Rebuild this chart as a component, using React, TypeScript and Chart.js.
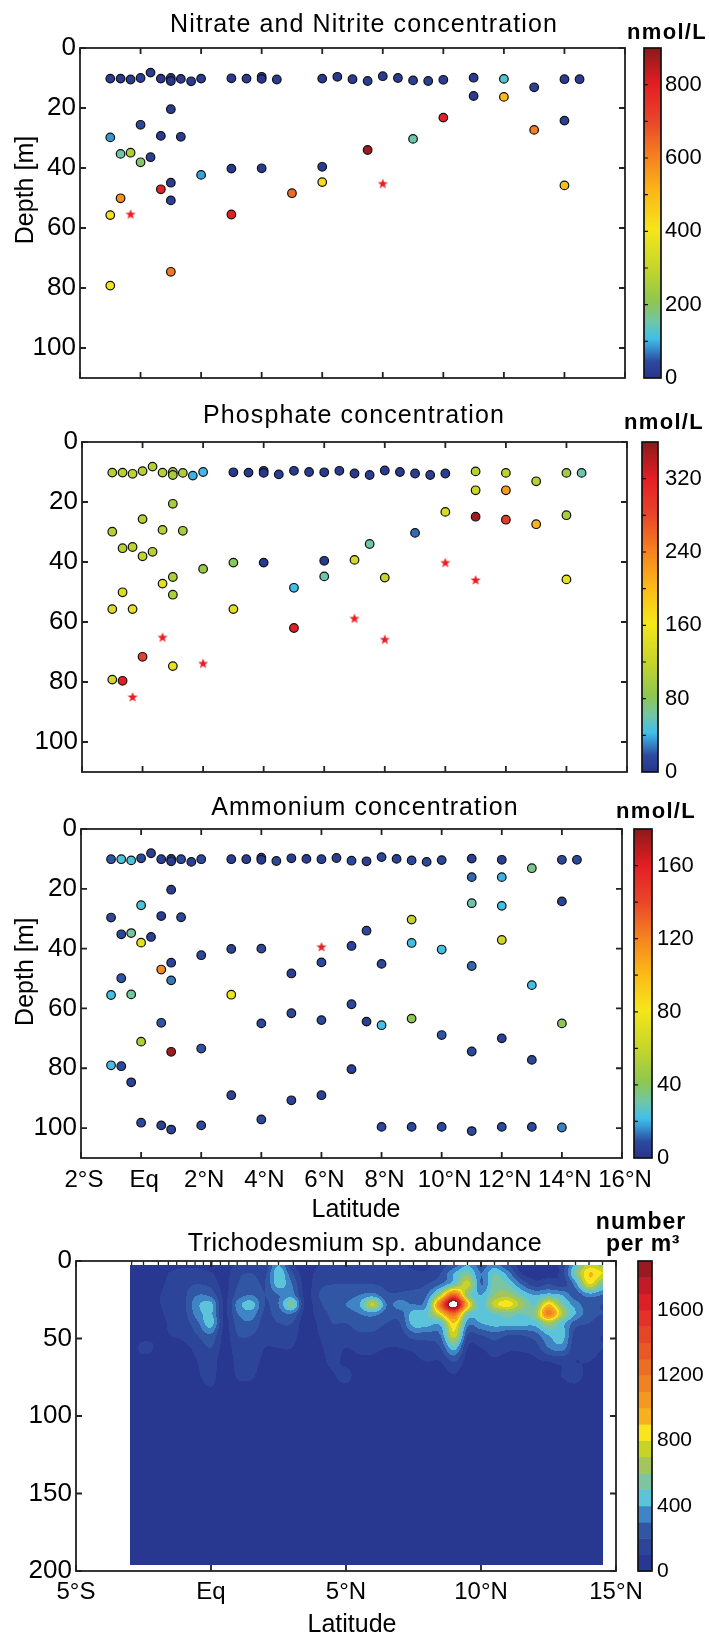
import React, { useEffect, useRef } from "react";
import { Chart, registerables } from "chart.js";

Chart.register(...registerables);
const FAMILY = '"Liberation Sans", Arial, Helvetica, sans-serif';
Chart.defaults.font.family = FAMILY;
Chart.defaults.color = "#000";

// ---------------- Axis ticks ----------------
const depthTicks = [0, 20, 40, 60, 80, 100];
const latTicks = [-2, 0, 2, 4, 6, 8, 10, 12, 14, 16];
const latTickLabels = ["2°S", "Eq", "2°N", "4°N", "6°N", "8°N", "10°N", "12°N", "14°N", "16°N"];
const trichoDepthTicks = [0, 50, 100, 150, 200];
const trichoLatTicks = [-5, 0, 5, 10, 15];
const trichoLatTickLabels = ["5°S", "Eq", "5°N", "10°N", "15°N"];

// ---------------- Panel 1: Nitrate + Nitrite (nmol/L) ----------------
const no3Lat = [-1, -0.66, -0.33, 0, 0.33, 0.67, 1, 1, 1.33, 1.67, 2, 3, 3.5, 4, 4, 4.5, 6, 6.5, 7, 7.5, 8, 8.5, 9, 9.5, 10, 11, 12, 13, 14, 14.5,
  1, 0, -1, 0.67, 1.33, -0.66, -0.33, 0.33, 0, 2, 3, 4, 6, 6, 5, 1, 0.67, 1, -0.66, -1, 3, 1, -1, 11, 12, 10, 14, 13, 9, 7.5, 14];
const no3Depth = [10.2, 10.2, 10.5, 10, 8.2, 10.2, 10, 11, 10.3, 11.1, 10.2, 10.1, 10.2, 9.6, 10.3, 10.5, 10.2, 9.6, 10.4, 11, 9.4, 10, 10.8, 11, 10.6, 9.9, 10.3, 13.1, 10.4, 10.4,
  20.4, 25.6, 29.8, 29.3, 29.6, 35.3, 34.9, 36.4, 38.1, 42.3, 40.2, 40.1, 39.6, 44.7, 48.4, 44.9, 47.1, 50.8, 50.1, 55.7, 55.5, 74.6, 79.2, 16.0, 16.3, 23.2, 24.2, 27.3, 30.3, 34.0, 45.8];
const no3Value = [20, 15, 15, 20, 15, 10, 10, 5, 15, 15, 15, 10, 15, 10, 5, 15, 10, 10, 15, 20, 15, 15, 20, 20, 15, 15, 130, 25, 15, 15,
  15, 40, 85, 15, 15, 150, 260, 25, 190, 90, 10, 10, 15, 430, 640, 15, 790, 20, 580, 420, 800, 620, 410, 15, 500, 790, 25, 610, 150, 880, 490];
const no3StarLat = [-0.33, 8];
const no3StarDepth = [55.4, 45.2];
const no3CbTicks = [0, 200, 400, 600, 800];

// ---------------- Panel 2: Phosphate (nmol/L) ----------------
const po4Lat = [-1, -0.66, -0.33, 0, 0.33, 0.66, 1, 1, 1.33, 1.66, 2, 3, 3.5, 4, 4, 4.5, 5, 5.5, 6, 6.5, 7, 7.5, 8, 8.5, 9, 9.5, 10, 11, 12, 13, 14, 14.5,
  1, 0, -1, 0.66, 1.33, -0.66, -0.33, 0.33, 0, 2, 3, 4, 6, 6, 5, 7, 1, 0.66, 1, -0.66, -1, -0.33, 3, 5, 0, 1, -1, -0.66, 11, 12, 10, 11, 12, 13, 14, 9, 7.5, 8, 14];
const po4Depth = [10.2, 10.2, 10.6, 9.7, 8.2, 10.2, 10, 11, 10.3, 11.2, 10, 10.1, 10.2, 9.6, 10.3, 10.8, 9.6, 10, 10.1, 9.6, 10.5, 11, 9.5, 10, 10.5, 11, 10.5, 9.8, 10.3, 13.1, 10.3, 10.3,
  20.6, 25.7, 29.9, 29.3, 29.6, 35.4, 35.0, 36.6, 38.1, 42.3, 40.2, 40.2, 39.6, 44.8, 48.6, 39.3, 45.0, 47.2, 50.9, 50.1, 55.7, 55.7, 55.7, 62.0, 71.6, 74.7, 79.2, 79.6, 16.1, 16.1, 23.3, 24.9, 25.9, 27.4, 24.4, 30.3, 34.0, 45.2, 45.8];
const po4Value = [110, 110, 115, 110, 105, 110, 105, 100, 105, 40, 42, 5, 5, 5, 3, 8, 5, 5, 5, 5, 5, 8, 5, 5, 8, 8, 8, 110, 115, 110, 95, 60,
  100, 110, 110, 110, 100, 110, 115, 110, 118, 90, 80, 5, 5, 60, 43, 130, 105, 148, 105, 140, 140, 150, 145, 320, 285, 150, 130, 320, 125, 225, 135, 350, 290, 205, 100, 25, 60, 120, 150];
const po4StarLat = [0.66, 2, -0.33, 7, 8, 10, 11];
const po4StarDepth = [65.1, 73.8, 85.0, 58.8, 65.8, 40.2, 46.0];
const po4CbTicks = [0, 80, 160, 240, 320];

// ---------------- Panel 3: Ammonium (nmol/L) ----------------
const nh4Lat = [-1, -0.66, -0.33, 0, 0.33, 0.67, 1, 1, 1.33, 1.67, 2, 3, 3.5, 4, 4, 4.5, 5, 5.5, 6, 6.5, 7, 7.5, 8, 8.5, 9, 9.5, 10, 11, 12, 13, 14, 14.5,
  11, 12, 11, 12, 14, 9, 7.5, 7, 9, 10, 12, 8, 11, 13, 7, 7.5, 8, 9, 14, 10, 12, 11, 13, 7, 8, 9, 10, 11, 12, 13,
  14, 1, 0, -1, 0.67, 1.33, -0.66, -0.33, 0.33, 0, 2, 3, 4, 6, 5, 1, 0.67, 1, -0.66, -1,
  -0.33, 3, 0.67, 4, 5, 6, 0, 1, 2, 3, 5, 6, -0.33, -1, -0.66, 0, 0.67, 1, 2, 4];
const nh4Depth = [10.1, 10.1, 10.5, 9.8, 8.1, 10.1, 10, 10.8, 10.1, 11, 10.1, 10.1, 10.1, 9.6, 10.3, 10.7, 9.8, 10, 10.1, 9.7, 10.6, 10.8, 9.4, 10, 10.5, 11, 10.4, 9.9, 10.3, 13.1, 10.3, 10.3,
  16.1, 16.1, 24.8, 25.7, 24.2, 30.3, 34.0, 39.1, 38.1, 40.3, 37.1, 45.1, 45.8, 52.2, 58.6, 64.4, 65.6, 63.4, 65.0, 68.9, 70.0, 74.4, 77.2, 80.3, 99.6, 99.6, 99.6, 101, 99.6, 99.6,
  99.8, 20.3, 25.5, 29.6, 29.1, 29.5, 35.2, 34.8, 36.1, 38.0, 42.2, 40.1, 40.0, 44.6, 48.3, 44.7, 47.0, 50.6, 49.9, 55.5,
  55.3, 55.4, 64.8, 65.0, 61.6, 63.9, 71.1, 74.5, 73.4, 89.0, 90.7, 89.0, 84.7, 79.0, 79.3, 98.2, 99.1, 100.5, 99.1, 97.1];
const nh4Value = [10, 24, 24, 8, 4, 4, 5, 3, 8, 5, 8, 4, 4, 4, 3, 8, 4, 4, 6, 4, 8, 4, 8, 5, 8, 8, 8, 5, 5, 34, 8, 8,
  12, 20, 30, 22, 6, 58, 8, 6, 22, 22, 62, 8, 12, 22, 8, 5, 22, 42, 40, 10, 6, 8, 8, 5, 8, 8, 8, 8, 8, 8,
  15, 4, 24, 8, 4, 8, 8, 32, 4, 72, 8, 6, 8, 8, 5, 6, 118, 14, 10, 22,
  32, 78, 10, 8, 8, 8, 52, 175, 10, 6, 6, 6, 6, 22, 8, 8, 6, 6, 8, 8];
const nh4StarLat = [6];
const nh4StarDepth = [39.4];
const nh4CbTicks = [0, 40, 80, 120, 160];

// ---------------- Panel 4: Trichodesmium sp. abundance (number per m3) ----------------
const trichoLat = [-3, -2.5, -2, -1.5, -1, -0.5, 0, 0.5, 1, 1.5, 2, 2.5, 3, 3.5, 4, 4.5, 5, 5.5, 6, 6.5, 7, 7.5, 8, 8.5, 9, 9.5, 10, 10.5, 11, 11.5, 12, 12.5, 13, 13.5, 14, 14.5];
const trichoDepth = [2.5, 8, 15, 22, 28, 34, 40, 48, 56, 65, 75, 85, 196];
const trichoAbundance = [
  [0, 0, 20, 60, 80, 80, 60, 50, 120, 150, 120, 400, 120, 40, 100, 150, 150, 120, 100, 120, 120, 80, 80, 150, 250, 400, 250, 350, 200, 50, 30, 30, 150, 450, 750, 650],
  [0, 0, 40, 110, 140, 140, 110, 60, 180, 200, 180, 480, 220, 50, 150, 180, 170, 150, 150, 150, 150, 120, 120, 200, 400, 550, 300, 500, 350, 100, 50, 50, 150, 550, 900, 800],
  [0, 0, 60, 130, 170, 200, 170, 70, 200, 250, 200, 450, 300, 60, 180, 200, 200, 200, 200, 180, 170, 150, 200, 300, 500, 750, 300, 550, 500, 300, 150, 200, 150, 350, 800, 550],
  [0, 0, 80, 150, 180, 300, 270, 80, 250, 300, 200, 300, 350, 70, 200, 220, 250, 300, 350, 220, 220, 250, 300, 700, 1300, 600, 400, 600, 650, 500, 400, 450, 400, 250, 350, 300],
  [0, 0, 80, 150, 180, 380, 430, 90, 350, 450, 200, 300, 560, 80, 180, 250, 300, 400, 720, 300, 350, 300, 400, 1250, 2050, 950, 450, 750, 850, 650, 500, 900, 550, 350, 250, 200],
  [0, 0, 60, 140, 170, 350, 420, 90, 300, 350, 180, 250, 300, 60, 150, 220, 250, 300, 350, 250, 250, 450, 480, 850, 1250, 550, 450, 500, 550, 500, 600, 1150, 700, 400, 250, 200],
  [0, 0, 40, 120, 150, 280, 450, 80, 250, 280, 150, 200, 200, 40, 120, 200, 200, 250, 250, 200, 200, 450, 450, 450, 900, 350, 400, 450, 450, 450, 450, 650, 450, 250, 200, 150],
  [0, 30, 80, 100, 120, 200, 280, 70, 200, 200, 130, 150, 150, 30, 100, 150, 150, 180, 180, 150, 150, 250, 250, 300, 750, 200, 200, 250, 200, 200, 250, 400, 450, 150, 120, 100],
  [0, 150, 80, 80, 80, 130, 200, 60, 150, 150, 100, 100, 100, 20, 80, 130, 100, 120, 120, 100, 100, 120, 150, 200, 450, 100, 100, 150, 120, 120, 150, 300, 350, 130, 150, 100],
  [0, 20, 40, 40, 50, 100, 150, 40, 130, 130, 80, 60, 60, 10, 60, 120, 80, 80, 80, 60, 60, 80, 100, 100, 200, 60, 60, 80, 60, 60, 80, 100, 120, 100, 100, 60],
  [0, 0, 10, 20, 30, 80, 140, 20, 110, 110, 40, 20, 20, 0, 30, 80, 130, 40, 40, 20, 30, 40, 40, 50, 80, 30, 30, 30, 30, 30, 40, 60, 100, 130, 60, 30],
  [0, 0, 0, 0, 0, 20, 70, 10, 30, 30, 10, 0, 0, 0, 0, 20, 30, 10, 10, 0, 0, 0, 0, 20, 30, 20, 0, 0, 0, 0, 0, 20, 30, 40, 20, 0],
  [0, 0, 0, 0, 0, 0, 0, 0, 0, 0, 0, 0, 0, 0, 0, 0, 0, 0, 0, 0, 0, 0, 0, 0, 0, 0, 0, 0, 0, 0, 0, 0, 0, 0, 0, 0],
];
const trichoStations = [-2.94, -2.5, -1.95, -1.58, -1.27, -0.9, -0.59, -0.28, 0.03, 0.35, 0.66, 0.97, 1.34, 1.71, 2.08, 2.5, 3.05, 3.54, 4.0, 4.53, 5.0, 5.5, 6.0, 6.5, 7.0, 7.5, 8.0, 8.5, 9.0, 9.5, 10.0, 10.5, 11.0, 11.5, 12.0, 12.5, 13.0, 13.5, 14.0, 14.5];
const trichoCbTicks = [0, 400, 800, 1200, 1600];
const trichoLevelStep = 100;
const trichoBandColors = ["#283891", "#2c4599", "#3156a4", "#3f85c5", "#5bc3da", "#7dc5a1", "#a2c65d", "#c8d327", "#f9e51d", "#f8b01e",
  "#f39921", "#ef8322", "#ec6e23", "#e95925", "#e74527", "#e53128", "#df1f26", "#c21b27", "#9a1b1f"];

// ---------------- Colour map (continuous) ----------------
const cmapPos = [0, 0.05, 0.1, 0.12, 0.17, 0.23, 0.33, 0.45, 0.56, 0.67, 0.78, 0.89, 1];
const cmapCol = ["#27348b", "#2c4a9f", "#3aa0d9", "#40bfe8", "#70c6a8", "#8dc651", "#c4d52a", "#f5e61b", "#fbb918", "#f58220", "#e9452a", "#e31e24", "#8b1a1a"];

function hexRgb(h: string) {
  return [parseInt(h.slice(1, 3), 16), parseInt(h.slice(3, 5), 16), parseInt(h.slice(5, 7), 16)];
}
const cmapRgb = cmapCol.map(hexRgb);
function cmap(f: number) {
  f = Math.max(0, Math.min(1, f));
  let i = 0;
  while (i < cmapPos.length - 2 && f > cmapPos[i + 1]) i++;
  const t = (f - cmapPos[i]) / (cmapPos[i + 1] - cmapPos[i]);
  const a = cmapRgb[i], b = cmapRgb[i + 1];
  return `rgb(${Math.round(a[0] + (b[0] - a[0]) * t)},${Math.round(a[1] + (b[1] - a[1]) * t)},${Math.round(a[2] + (b[2] - a[2]) * t)})`;
}

let starCache: HTMLCanvasElement | null = null;
function starImage() {
  if (starCache) return starCache;
  const c = document.createElement("canvas");
  c.width = 12;
  c.height = 12;
  const g = c.getContext("2d")!;
  g.fillStyle = "#ec1c24";
  g.beginPath();
  for (let k = 0; k < 10; k++) {
    const r = k % 2 === 0 ? 5.3 : 2.2;
    const a = -Math.PI / 2 + (k * Math.PI) / 5;
    const px = 6 + r * Math.cos(a), py = 6.4 + r * Math.sin(a);
    if (k === 0) g.moveTo(px, py); else g.lineTo(px, py);
  }
  g.closePath();
  g.fill();
  starCache = c;
  return c;
}

function locate(arr: number[], v: number): [number, number] {
  if (v <= arr[0]) return [0, 0];
  for (let i = 0; i < arr.length - 1; i++) {
    if (v <= arr[i + 1]) return [i, (v - arr[i]) / (arr[i + 1] - arr[i])];
  }
  return [arr.length - 2, 1];
}

// Catmull-Rom weights for a fractional position t in [0,1]
function crWeights(t: number) {
  const t2 = t * t, t3 = t2 * t;
  return [(-t3 + 2 * t2 - t) / 2, (3 * t3 - 5 * t2 + 2) / 2, (-3 * t3 + 4 * t2 + t) / 2, (t3 - t2) / 2];
}

type TextItem = { text: string; x: number; y: number; font: string; spacing?: string; rotate?: boolean };

type PanelSpec = {
  top: number; height: number; padTop: number; padBottom: number;
  yW: number; cbW: number; cbOff: number; cbBarW: number; cbPad: number; cbFont: number;
  xMin: number; xMax: number; xTicks: number[]; xLabels: string[]; showX: boolean; xH: number; xPad: number; xLabelOffset: number;
  yMax: number; yTicks: number[];
  cbMax: number; cbTicks: number[]; cbMinor: number; discrete: boolean;
  texts: TextItem[];
  scatter?: { lat: number[]; depth: number[]; value: number[]; starLat: number[]; starDepth: number[] };
  contour?: boolean;
  topTicks?: number[];
};

const f = (s: string) => s + " " + FAMILY;

const panels: PanelSpec[] = [
  {
    top: 0, height: 395, padTop: 48, padBottom: 17, yW: 80, cbW: 84, cbOff: 19, cbBarW: 17, cbPad: 40, cbFont: 22,
    xMin: -2, xMax: 16, xTicks: latTicks, xLabels: latTickLabels, showX: false, xH: 0, xPad: 0, xLabelOffset: 0,
    yMax: 110, yTicks: depthTicks, cbMax: 900, cbTicks: no3CbTicks, cbMinor: 100, discrete: false,
    texts: [
      { text: "Nitrate and Nitrite concentration", x: 364, y: 31.7, font: f("25px"), spacing: "1.1px" },
      { text: "Depth [m]", x: 33.3, y: 190, font: f("25px"), rotate: true },
      { text: "nmol/L", x: 667, y: 39, font: f("bold 22px"), spacing: "1.3px" },
    ],
    scatter: { lat: no3Lat, depth: no3Depth, value: no3Value, starLat: no3StarLat, starDepth: no3StarDepth },
  },
  {
    top: 395, height: 395, padTop: 47, padBottom: 18, yW: 82, cbW: 82, cbOff: 15, cbBarW: 16, cbPad: 38, cbFont: 22,
    xMin: -2, xMax: 16, xTicks: latTicks, xLabels: latTickLabels, showX: false, xH: 0, xPad: 0, xLabelOffset: 0,
    yMax: 110, yTicks: depthTicks, cbMax: 360, cbTicks: po4CbTicks, cbMinor: 40, discrete: false,
    texts: [
      { text: "Phosphate concentration", x: 354, y: 423.3, font: f("25px"), spacing: "1.1px" },
      { text: "nmol/L", x: 664, y: 429.3, font: f("bold 22px"), spacing: "1.3px" },
    ],
    scatter: { lat: po4Lat, depth: po4Depth, value: po4Value, starLat: po4StarLat, starDepth: po4StarDepth },
  },
  {
    top: 790, height: 432, padTop: 39, padBottom: 0, yW: 81, cbW: 87, cbOff: 12, cbBarW: 18, cbPad: 35, cbFont: 22,
    xMin: -2, xMax: 16, xTicks: latTicks, xLabels: latTickLabels, showX: true, xH: 64, xPad: 8, xLabelOffset: 3,
    yMax: 110, yTicks: depthTicks, cbMax: 180, cbTicks: nh4CbTicks, cbMinor: 20, discrete: false,
    texts: [
      { text: "Ammonium concentration", x: 365, y: 815, font: f("25px"), spacing: "1.1px" },
      { text: "Depth [m]", x: 33.3, y: 971.7, font: f("25px"), rotate: true },
      { text: "nmol/L", x: 656, y: 818.3, font: f("bold 22px"), spacing: "1.3px" },
      { text: "Latitude", x: 356, y: 1217, font: f("25px") },
    ],
    scatter: { lat: nh4Lat, depth: nh4Depth, value: nh4Value, starLat: nh4StarLat, starDepth: nh4StarDepth },
  },
  {
    top: 1195, height: 439, padTop: 66, padBottom: 0, yW: 76, cbW: 93, cbOff: 22, cbBarW: 14, cbPad: 41, cbFont: 21,
    xMin: -5, xMax: 15, xTicks: trichoLatTicks, xLabels: trichoLatTickLabels, showX: true, xH: 63, xPad: 7, xLabelOffset: 0,
    yMax: 200, yTicks: trichoDepthTicks, cbMax: 1900, cbTicks: trichoCbTicks, cbMinor: 0, discrete: true,
    texts: [
      { text: "Trichodesmium sp. abundance", x: 365, y: 1250.7, font: f("25px"), spacing: "0.5px" },
      { text: "number", x: 641, y: 1229.3, font: f("bold 23px"), spacing: "1px" },
      { text: "per m³", x: 643, y: 1250.7, font: f("bold 23px"), spacing: "0.6px" },
      { text: "Latitude", x: 352, y: 1632, font: f("25px") },
    ],
    contour: true,
    topTicks: trichoStations,
  },
];

const bandRgb = trichoBandColors.map(hexRgb);

function buildConfig(p: PanelSpec): any {
  const datasets: any[] = [];
  if (p.scatter) {
    const s = p.scatter;
    datasets.push({
      data: s.lat.map((x, i) => ({ x, y: s.depth[i] })),
      pointRadius: 4.3,
      pointHoverRadius: 4.3,
      pointBackgroundColor: s.value.map((v) => cmap(v / p.cbMax)),
      pointBorderColor: "#111",
      pointBorderWidth: 1.2,
      showLine: false,
    });
    datasets.push({
      data: s.starLat.map((x, i) => ({ x, y: s.starDepth[i] })),
      pointStyle: starImage(),
      pointRadius: 6,
      showLine: false,
    });
  }

  const noPad = (sc: any) => {
    sc.paddingTop = 0; sc.paddingBottom = 0; sc.paddingLeft = 0; sc.paddingRight = 0;
  };

  const contourPlugin = {
    id: "contour",
    beforeDatasetsDraw(chart: any) {
      if (!p.contour) return;
      const { ctx, scales } = chart;
      const x = scales.x, y = scales.y;
      const nC = trichoLat.length, nR = trichoDepth.length;
      const px0 = Math.round(x.getPixelForValue(trichoLat[0]));
      const px1 = Math.round(x.getPixelForValue(trichoLat[nC - 1]));
      const py0 = Math.round(y.getPixelForValue(trichoDepth[0]));
      const py1 = Math.round(y.getPixelForValue(trichoDepth[nR - 1]));
      const w = px1 - px0, h = py1 - py0;
      const off = document.createElement("canvas");
      off.width = w; off.height = h;
      const octx = off.getContext("2d")!;
      const img = octx.createImageData(w, h);
      const clampC = (k: number) => Math.max(0, Math.min(nC - 1, k));
      const clampR = (k: number) => Math.max(0, Math.min(nR - 1, k));
      const colIdx: number[][] = [], colW: number[][] = [];
      for (let i = 0; i < w; i++) {
        const [c, tx] = locate(trichoLat, x.getValueForPixel(px0 + i + 0.5));
        colIdx.push([clampC(c - 1), c, clampC(c + 1), clampC(c + 2)]);
        colW.push(crWeights(tx));
      }
      for (let j = 0; j < h; j++) {
        const [r, ty] = locate(trichoDepth, y.getValueForPixel(py0 + j + 0.5));
        const rows = [clampR(r - 1), r, clampR(r + 1), clampR(r + 2)].map((k) => trichoAbundance[k]);
        const rw = crWeights(ty);
        for (let i = 0; i < w; i++) {
          const ci = colIdx[i], cw = colW[i];
          let v = 0;
          for (let a = 0; a < 4; a++) {
            const row = rows[a];
            v += rw[a] * (cw[0] * row[ci[0]] + cw[1] * row[ci[1]] + cw[2] * row[ci[2]] + cw[3] * row[ci[3]]);
          }
          const k = (j * w + i) * 4;
          let rgb: number[];
          if (v >= p.cbMax) rgb = [255, 255, 255];
          else rgb = bandRgb[Math.min(bandRgb.length - 1, Math.max(0, Math.floor(v / trichoLevelStep)))];
          img.data[k] = rgb[0]; img.data[k + 1] = rgb[1]; img.data[k + 2] = rgb[2]; img.data[k + 3] = 255;
        }
      }
      octx.putImageData(img, 0, 0);
      ctx.drawImage(off, px0, py0);
    },
  };

  const framePlugin = {
    id: "frame",
    afterDatasetsDraw(chart: any) {
      const { ctx, chartArea, scales } = chart;
      const { left, right, top, bottom } = chartArea;
      const x = scales.x, y = scales.y;
      ctx.save();
      ctx.strokeStyle = "#222";
      ctx.lineWidth = 1.8;
      ctx.beginPath();
      const tl = 6;
      for (const v of p.xTicks) {
        const px = x.getPixelForValue(v);
        ctx.moveTo(px, bottom); ctx.lineTo(px, bottom - tl);
        ctx.moveTo(px, top); ctx.lineTo(px, top + tl);
      }
      for (const v of p.yTicks) {
        const py = y.getPixelForValue(v);
        ctx.moveTo(left, py); ctx.lineTo(left + tl, py);
        ctx.moveTo(right, py); ctx.lineTo(right - tl, py);
      }
      ctx.stroke();
      if (p.topTicks) {
        ctx.lineWidth = 1.3;
        ctx.beginPath();
        for (const v of p.topTicks) {
          const px = x.getPixelForValue(v);
          ctx.moveTo(px, top); ctx.lineTo(px, top + 4);
        }
        ctx.stroke();
      }
      ctx.lineWidth = 1.8;
      ctx.strokeRect(left, top, right - left, bottom - top);
      ctx.restore();
    },
  };

  const colorbarPlugin = {
    id: "colorbar",
    afterDraw(chart: any) {
      const { ctx, chartArea } = chart;
      const cb = chart.scales.cb;
      const x0 = cb.left + p.cbOff;
      const w = p.cbBarW;
      const top = chartArea.top, bottom = chartArea.bottom;
      ctx.save();
      if (p.discrete) {
        const n = Math.round(p.cbMax / trichoLevelStep);
        for (let k = 0; k < n; k++) {
          const y1 = cb.getPixelForValue(k * trichoLevelStep);
          const y2 = cb.getPixelForValue((k + 1) * trichoLevelStep);
          ctx.fillStyle = trichoBandColors[k];
          ctx.fillRect(x0, y2, w, y1 - y2 + 0.5);
        }
      } else {
        for (let py = Math.floor(top); py < bottom; py++) {
          const v = cb.getValueForPixel(py + 0.5);
          ctx.fillStyle = cmap(v / p.cbMax);
          ctx.fillRect(x0, py, w, 1);
        }
      }
      ctx.strokeStyle = "#111";
      if (p.cbMinor > 0) {
        ctx.beginPath();
        for (let v = p.cbMinor; v < p.cbMax; v += p.cbMinor) {
          const py = cb.getPixelForValue(v);
          ctx.moveTo(x0, py); ctx.lineTo(x0 + 4, py);
        }
        ctx.lineWidth = 1.2;
        ctx.stroke();
      }
      ctx.lineWidth = 1.7;
      ctx.strokeRect(x0, top, w, bottom - top);
      ctx.restore();
    },
  };

  const textPlugin = {
    id: "texts",
    afterDraw(chart: any) {
      const ctx = chart.ctx;
      for (const t of p.texts) {
        ctx.save();
        ctx.font = t.font;
        (ctx as any).letterSpacing = t.spacing || "0px";
        ctx.fillStyle = "#000";
        ctx.textAlign = "center";
        ctx.textBaseline = "alphabetic";
        if (t.rotate) {
          ctx.translate(t.x, t.y - p.top);
          ctx.rotate(-Math.PI / 2);
          ctx.fillText(t.text, 0, 0);
        } else {
          ctx.fillText(t.text, t.x, t.y - p.top);
        }
        ctx.restore();
      }
    },
  };

  return {
    type: "scatter",
    data: { datasets },
    options: {
      animation: false,
      responsive: false,
      events: [],
      layout: { padding: { top: p.padTop, bottom: p.padBottom, left: 0, right: 0 } },
      plugins: { legend: { display: false }, tooltip: { enabled: false }, title: { display: false } },
      scales: {
        x: {
          type: "linear",
          min: p.xMin,
          max: p.xMax,
          display: p.showX,
          afterBuildTicks: (a: any) => { a.ticks = p.xTicks.map((v) => ({ value: v })); },
          afterFit: (s: any) => { if (p.showX) { s.height = p.xH; noPad(s); } },
          ticks: {
            autoSkip: false, maxRotation: 0, minRotation: 0, padding: p.xPad, labelOffset: p.xLabelOffset,
            font: { size: 24 },
            callback: (v: number) => { const i = p.xTicks.indexOf(v); return i >= 0 ? p.xLabels[i] : ""; },
          },
          grid: { display: false, drawTicks: false },
          border: { display: false },
        },
        y: {
          type: "linear",
          reverse: true,
          min: 0,
          max: p.yMax,
          afterBuildTicks: (a: any) => { a.ticks = p.yTicks.map((v) => ({ value: v })); },
          afterFit: (s: any) => { s.width = p.yW; noPad(s); },
          ticks: { padding: 4, font: { size: 26 }, autoSkip: false, callback: (v: number) => String(v) },
          grid: { display: false, drawTicks: false },
          border: { display: false },
        },
        cb: {
          type: "linear",
          position: "right",
          min: 0,
          max: p.cbMax,
          afterBuildTicks: (a: any) => { a.ticks = p.cbTicks.map((v) => ({ value: v })); },
          afterFit: (s: any) => { s.width = p.cbW; noPad(s); },
          ticks: { padding: p.cbPad, font: { size: p.cbFont }, autoSkip: false, callback: (v: number) => String(v) },
          grid: { display: false, drawTicks: false },
          border: { display: false },
        },
      },
    },
    plugins: [contourPlugin, framePlugin, colorbarPlugin, textPlugin],
  };
}

function PanelChart({ spec }: { spec: PanelSpec }) {
  const ref = useRef<HTMLCanvasElement>(null);
  useEffect(() => {
    const chart = new Chart(ref.current!, buildConfig(spec));
    return () => chart.destroy();
  }, [spec]);
  return (
    <canvas
      ref={ref}
      width={709}
      height={spec.height}
      style={{ position: "absolute", left: 0, top: spec.top, width: 709, height: spec.height }}
    />
  );
}

export default function App() {
  return (
    <div style={{ position: "absolute", left: 0, top: 0, width: 709, height: 1634, background: "#fff", overflow: "hidden" }}>
      {panels.map((p, i) => (
        <PanelChart key={i} spec={p} />
      ))}
    </div>
  );
}
